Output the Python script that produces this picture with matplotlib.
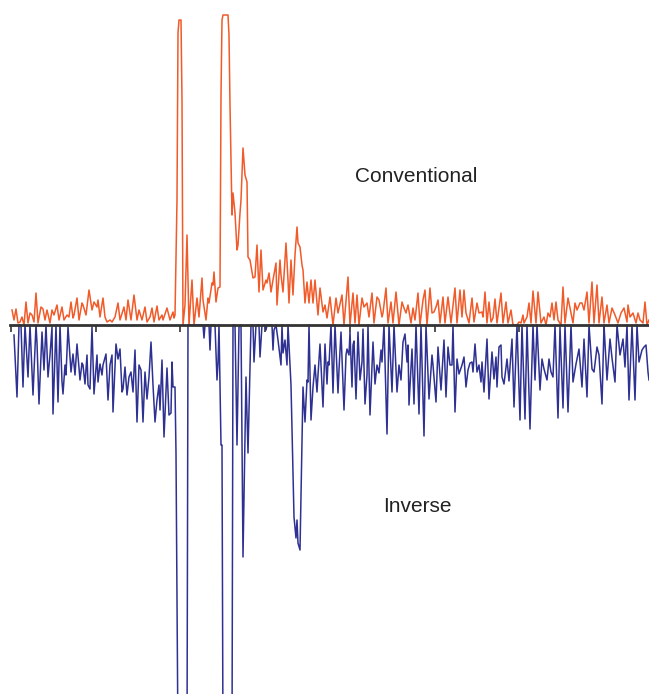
import matplotlib
matplotlib.use("Agg")
from matplotlib import pyplot as plt

# conventional spectrum (positive, above baseline)
conv_x = [12, 14, 16, 18, 20, 22, 24, 26, 28, 30, 32, 34, 36, 38, 41, 43, 45, 47, 50, 52,
          54, 57, 59, 62, 64, 67, 69, 71, 73, 74, 77, 79, 82, 83, 86, 89, 92, 94, 97, 98,
          100, 103, 105, 107, 110, 112, 115, 118, 120, 124, 126, 128, 131, 134, 137, 139, 142, 145, 147, 150,
          152, 154, 157, 159, 162, 163, 167, 170, 173, 174, 175, 177, 178, 179, 181, 182, 183, 185, 187, 189,
          192, 194, 197, 199, 202, 203, 206, 208, 209, 212, 213, 214, 216, 218, 220, 221, 222, 223, 228, 229,
          230, 232, 233, 235, 237, 238, 240, 241, 243, 245, 247, 248, 250, 253, 255, 257, 259, 261, 263, 266,
          267, 269, 271, 273, 276, 277, 280, 281, 283, 286, 288, 289, 291, 293, 295, 297, 298, 300, 302, 303,
          305, 307, 309, 311, 313, 315, 318, 320, 323, 325, 327, 330, 333, 336, 338, 342, 344, 348, 350, 353,
          355, 357, 359, 362, 364, 367, 369, 372, 374, 377, 379, 382, 383, 386, 388, 391, 393, 396, 399, 402,
          404, 406, 408, 411, 413, 415, 418, 420, 423, 425, 427, 430, 432, 434, 436, 438, 440, 443, 445, 448,
          451, 455, 457, 460, 462, 464, 466, 469, 472, 474, 477, 479, 482, 483, 485, 487, 489, 491, 493, 495,
          497, 501, 503, 506, 508, 511, 513, 517, 519, 521, 523, 524, 527, 529, 531, 533, 536, 538, 541, 544,
          546, 548, 550, 552, 554, 556, 558, 561, 563, 565, 568, 571, 573, 575, 577, 580, 582, 584, 587, 589,
          592, 594, 597, 599, 602, 604, 607, 609, 612, 615, 618, 621, 624, 627, 628, 630, 633, 636, 638, 640,
          643, 645, 647, 649]
conv_y = [15, 5, 16, 2, 3, 8, 0, 23, 2, 12, 10, 3, 32, 2, 18, 16, 5, 15, 2, 15,
          10, 20, 5, 18, 5, 10, 8, 23, 7, 10, 27, 5, 22, 20, 10, 35, 15, 23, 18, 25,
          8, 27, 8, 3, 5, 3, 8, 22, 5, 18, 5, 25, 5, 30, 5, 15, 5, 18, 3, 8,
          17, 3, 19, 5, 10, 5, 17, 5, 13, 7, 10, 125, 292, 305, 305, 225, 0, 20, 90, 0,
          45, 0, 27, 8, 47, 25, 5, 27, 22, 42, 40, 53, 23, 37, 38, 230, 305, 310, 310, 290,
          220, 110, 132, 112, 75, 80, 112, 125, 177, 150, 143, 68, 65, 47, 48, 80, 33, 75, 35, 45,
          42, 52, 33, 45, 62, 20, 65, 50, 33, 82, 45, 22, 65, 30, 70, 98, 82, 78, 60, 55,
          22, 43, 22, 45, 22, 45, 10, 37, 13, 20, 7, 28, 0, 27, 12, 30, 0, 48, 0, 32,
          2, 30, 0, 27, 18, 22, 8, 32, 2, 28, 25, 8, 12, 37, 2, 23, 2, 33, 0, 23,
          17, 12, 20, 2, 17, 5, 32, 0, 25, 35, 0, 37, 12, 13, 18, 25, 2, 28, 2, 28,
          2, 37, 2, 35, 8, 35, 12, 2, 27, 3, 22, 12, 13, 8, 33, 2, 23, 3, 7, 26,
          2, 32, 2, 23, 2, 15, 0, 0, 3, 2, 10, 2, 8, 22, 2, 34, 2, 33, 2, 8,
          0, 12, 8, 22, 5, 23, 5, 0, 38, 2, 27, 12, 2, 22, 15, 22, 22, 15, 33, 2,
          43, 2, 40, 2, 28, 2, 20, 2, 17, 10, 2, 12, 17, 3, 20, 8, 12, 2, 12, 5,
          2, 23, 0, 5]

# inverse spectrum (depth below baseline)
inv_x = [14, 17, 19, 21, 23, 25, 28, 30, 33, 36, 37, 39, 42, 44, 46, 48, 50, 52, 53, 56,
         58, 60, 62, 63, 65, 66, 68, 71, 73, 75, 77, 80, 82, 83, 85, 87, 88, 90, 92, 94,
         97, 98, 100, 102, 103, 106, 108, 110, 112, 113, 116, 118, 120, 122, 123, 125, 127, 129, 131, 133,
         135, 137, 139, 141, 143, 145, 147, 149, 151, 153, 155, 157, 159, 160, 162, 164, 167, 169, 171, 172,
         173, 175, 176, 178, 187, 188, 203, 204, 205, 209, 210, 211, 215, 217, 218, 219, 221, 222, 223, 232,
         233, 235, 237, 239, 241, 243, 246, 248, 251, 253, 254, 256, 259, 260, 262, 265, 266, 267, 272, 273,
         274, 276, 278, 281, 282, 283, 285, 287, 288, 291, 294, 296, 297, 298, 300, 301, 303, 305, 307, 308,
         309, 311, 313, 315, 317, 318, 320, 323, 325, 327, 328, 329, 331, 333, 335, 338, 339, 341, 344, 346,
         347, 349, 350, 352, 353, 354, 356, 358, 360, 362, 363, 365, 367, 368, 370, 373, 375, 377, 379, 381,
         382, 384, 387, 389, 392, 394, 397, 399, 401, 403, 405, 407, 408, 409, 412, 414, 416, 419, 421, 424,
         426, 429, 432, 433, 436, 438, 441, 444, 446, 448, 450, 452, 453, 455, 457, 459, 462, 464, 466, 468,
         470, 472, 473, 475, 477, 479, 481, 482, 484, 487, 489, 492, 494, 496, 497, 499, 501, 502, 504, 507,
         509, 512, 514, 517, 520, 522, 525, 527, 530, 533, 535, 537, 540, 542, 544, 547, 549, 551, 553, 555,
         558, 560, 563, 565, 568, 571, 573, 576, 579, 582, 584, 587, 589, 592, 594, 597, 599, 602, 604, 607,
         610, 612, 615, 617, 620, 623, 625, 627, 629, 632, 635, 637, 639, 642, 644, 646, 648, 649]
inv_y = [10, 72, 0, 0, 62, 0, 52, 0, 70, 0, 18, 79, 7, 45, 0, 52, 30, 2, 89, 0,
         77, 0, 57, 69, 40, 50, 2, 47, 29, 50, 19, 55, 38, 40, 59, 30, 60, 64, 2, 69,
         30, 57, 39, 50, 40, 29, 75, 40, 30, 87, 19, 34, 24, 67, 64, 42, 70, 52, 47, 67,
         25, 97, 40, 45, 97, 47, 74, 52, 17, 60, 97, 75, 60, 85, 35, 112, 43, 90, 88, 37,
         62, 62, 128, 420, 420, 0, 0, 13, 0, 0, 25, 0, 0, 55, 38, 0, 120, 120, 420, 420,
         0, 0, 120, 2, 0, 232, 52, 128, 0, 0, 37, 0, 0, 32, 0, 0, 5, 0, 0, 25,
         5, 0, 15, 40, 0, 28, 15, 40, 0, 60, 192, 213, 195, 218, 225, 170, 62, 97, 55, 57,
         0, 95, 62, 40, 67, 50, 19, 82, 19, 59, 37, 40, 0, 68, 0, 68, 45, 7, 85, 30,
         24, 30, 7, 62, 20, 16, 74, 7, 55, 37, 4, 79, 50, 0, 90, 17, 59, 40, 48, 25,
         37, 0, 109, 0, 67, 0, 67, 40, 55, 17, 9, 37, 20, 80, 24, 79, 0, 89, 0, 111,
         0, 74, 30, 40, 77, 22, 65, 15, 72, 22, 40, 40, 0, 87, 34, 49, 40, 32, 62, 45,
         38, 37, 47, 19, 47, 40, 57, 37, 67, 14, 74, 27, 54, 32, 62, 22, 20, 52, 59, 34,
         56, 14, 82, 0, 95, 0, 94, 0, 104, 0, 55, 0, 65, 34, 44, 55, 34, 47, 52, 0,
         93, 2, 83, 0, 87, 0, 57, 39, 24, 62, 14, 72, 0, 44, 47, 22, 30, 79, 0, 55,
         14, 33, 57, 0, 30, 14, 42, 0, 75, 0, 75, 0, 37, 25, 22, 20, 47, 55]

ticks = [11, 96, 180, 265, 350, 435, 519, 604]

fig = plt.figure(figsize=(6.49, 6.94), dpi=100)
ax = fig.add_axes([10 / 649, 0, 639 / 649, 1])

ax.plot(conv_x, conv_y, color="#f15a29", lw=1.1, solid_joinstyle="round")
ax.plot(inv_x, [-v for v in inv_y], color="#2e3192", lw=1.1, solid_joinstyle="round")

ax.set_xlim(10, 649)
ax.set_ylim(-369, 325)

# baseline with downward ticks
for s in ["left", "right", "top"]:
    ax.spines[s].set_visible(False)
ax.spines["bottom"].set_position(("data", 0))
ax.spines["bottom"].set_color("#333333")
ax.spines["bottom"].set_linewidth(2)
ax.spines["bottom"].set_zorder(5)
ax.set_xticks(ticks)
ax.set_xticklabels([])
ax.tick_params(axis="x", direction="out", length=5, width=1.2, color="#333333")
ax.set_yticks([])

ax.text(355, 149, "Conventional", fontsize=15, family="Liberation Sans", va="center", ha="left", color="#222222")
ax.text(383, -181, "Inverse", fontsize=15, family="Liberation Sans", va="center", ha="left", color="#222222")

plt.savefig("out.png", dpi=100)
